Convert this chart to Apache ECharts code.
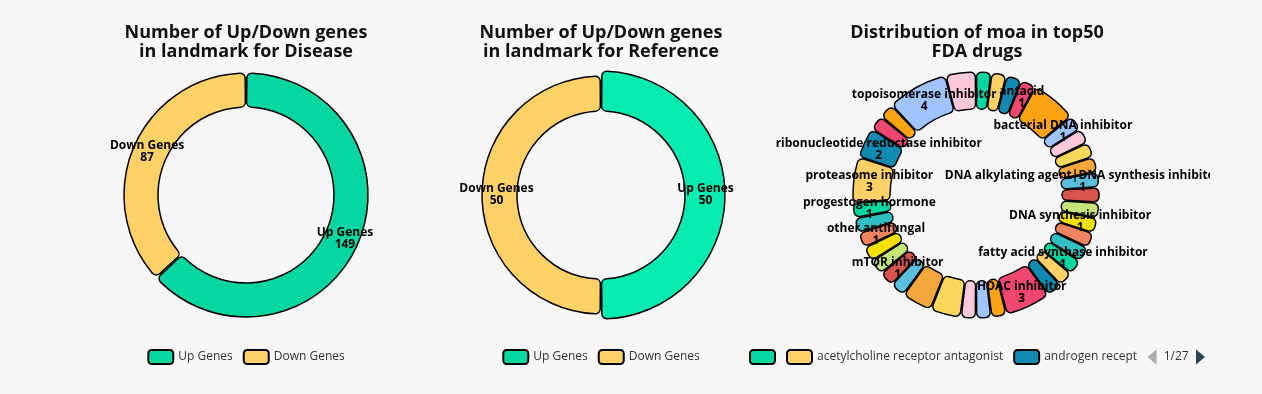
<!DOCTYPE html>
<html>
<head>
<meta charset="utf-8">
<script src="https://cdn.jsdelivr.net/npm/echarts@6/dist/echarts.min.js"></script>
<style>
  html, body { margin: 0; padding: 0; background: #f7f7f7; width: 1262px; height: 394px; overflow: hidden; }
  .c { position: absolute; top: 0; height: 394px; }
</style>
</head>
<body>
<div id="c1" class="c" style="left:36px;width:420px;"></div>
<div id="c2" class="c" style="left:391px;width:420px;"></div>
<div id="c3" class="c" style="left:744px;width:466px;"></div>
<script>
// ---- data ----
const geneCategories = ['Up Genes', 'Down Genes'];
const diseaseValues = [149, 87];
const referenceValues = [50, 50];
const geneColors = ['#06d6a0', '#ffd166'];

const moaNames = [
  '', 'acetylcholine receptor antagonist', 'androgen receptor antagonist', 'antacid',
  'aromatase inhibitor', 'bacterial DNA inhibitor', 'bacterial protein synthesis inhibitor', 'calcium channel blocker',
  'cyclooxygenase inhibitor', 'DNA alkylating agent|DNA synthesis inhibitor', 'DNA inhibitor|topoisomerase inhibitor',
  'DNA methyltransferase inhibitor', 'DNA synthesis inhibitor', 'EGFR inhibitor|HER2 inhibitor',
  'estrogen receptor antagonist', 'fatty acid synthase inhibitor', 'glucocorticoid receptor agonist',
  'gonadotropin releasing factor hormone receptor agonist', 'HDAC inhibitor', 'histone lysine methyltransferase inhibitor',
  'immunosuppressant', 'JAK inhibitor|tyrosine kinase inhibitor', 'kinase inhibitor', 'MEK inhibitor|RAF inhibitor', 'microtubule inhibitor',
  'mTOR inhibitor', 'nucleoside reverse transcriptase inhibitor', 'opioid receptor agonist',
  'other antifungal', 'PARP inhibitor|apoptosis stimulant', 'progestogen hormone', 'proteasome inhibitor',
  'ribonucleotide reductase inhibitor', 'RNA polymerase inhibitor|RNA synthesis inhibitor', 'thymidylate synthase inhibitor',
  'topoisomerase inhibitor', 'tubulin polymerization inhibitor'
];
const moaCounts = [
  1, 1, 1, 1,
  3, 1, 1, 1,
  1, 1, 1,
  1, 1, 1,
  1, 1, 1,
  1, 3, 1,
  1, 1, 2, 2, 1,
  1, 1, 1,
  1, 1, 1, 3,
  2, 1, 1,
  4, 2
];
const moaLabelled = [
  'antacid', 'bacterial DNA inhibitor', 'DNA alkylating agent|DNA synthesis inhibitor',
  'DNA synthesis inhibitor', 'fatty acid synthase inhibitor', 'HDAC inhibitor', 'mTOR inhibitor',
  'other antifungal', 'progestogen hormone', 'proteasome inhibitor',
  'ribonucleotide reductase inhibitor', 'topoisomerase inhibitor'
];
const moaPalette = [
  '#06d6a0', '#ffd166', '#118ab2', '#ef476f', '#fca311',
  '#a0c4ff', '#ffc8dd', '#fbd75b', '#f3a73d', '#5bc0de',
  '#d9534f', '#c5e57a', '#f5e000', '#ef8560', '#2ebfc2'
];

const FONT = 'Open Sans, sans-serif';

function titleOpt(text) {
  return {
    text: text, left: 'center', top: 18,
    textStyle: { fontSize: 18, fontWeight: 'bold', color: '#111', fontFamily: FONT, lineHeight: 19 }
  };
}
const labelOpt = {
  show: true, position: 'inside', formatter: '{b}\n{c}',
  color: '#000', fontWeight: 'bold', fontSize: 12, lineHeight: 12, fontFamily: FONT
};
const legendBase = {
  bottom: 24, left: 'center', itemGap: 10, itemWidth: 25, itemHeight: 14,
  textStyle: { color: '#333', fontSize: 12, fontFamily: FONT }
};

function genePie(el, title, values, radius, center, highlightIdx) {
  const chart = echarts.init(document.getElementById(el), null, { renderer: 'canvas' });
  chart.setOption({
    animation: false,
    color: geneColors,
    title: titleOpt(title),
    legend: Object.assign({}, legendBase, { data: geneCategories }),
    series: [{
      type: 'pie',
      center: center,
      radius: radius,
      padAngle: 0.8,
      avoidLabelOverlap: false,
      itemStyle: { borderColor: '#000', borderWidth: 1.5, borderRadius: 5 },
      label: labelOpt,
      labelLine: { show: false },
      emphasis: { scale: true, scaleSize: 5 },
      data: geneCategories.map((n, i) => ({ name: n, value: values[i] }))
    }]
  });
  if (highlightIdx != null) {
    chart.dispatchAction({ type: 'highlight', seriesIndex: 0, dataIndex: highlightIdx });
  }
}

genePie('c1', 'Number of Up/Down genes\nin landmark for Disease', diseaseValues, [88, 122], [210, 195], null);
genePie('c2', 'Number of Up/Down genes\nin landmark for Reference', referenceValues, [84, 119], [210, 195], 0);

const c3 = echarts.init(document.getElementById('c3'), null, { renderer: 'canvas' });
c3.setOption({
  animation: false,
  color: moaPalette,
  title: titleOpt('Distribution of moa in top50\nFDA drugs'),
  legend: Object.assign({}, legendBase, {
    type: 'scroll', left: 0, right: 0, data: moaNames,
    pageIconColor: '#2f4554', pageIconInactiveColor: '#aaa', pageIconSize: 15,
    pageTextStyle: { color: '#333', fontSize: 12, fontFamily: FONT }
  }),
  series: [{
    type: 'pie',
    center: [232, 195],
    radius: [86, 123],
    padAngle: 0.6,
    avoidLabelOverlap: false,
    itemStyle: { borderColor: '#000', borderWidth: 1.5, borderRadius: 5 },
    label: labelOpt,
    labelLine: { show: false },
    data: moaNames.map((n, i) => ({
      name: n, value: moaCounts[i],
      label: { show: moaLabelled.indexOf(n) >= 0 }
    }))
  }]
});
</script>
</body>
</html>
